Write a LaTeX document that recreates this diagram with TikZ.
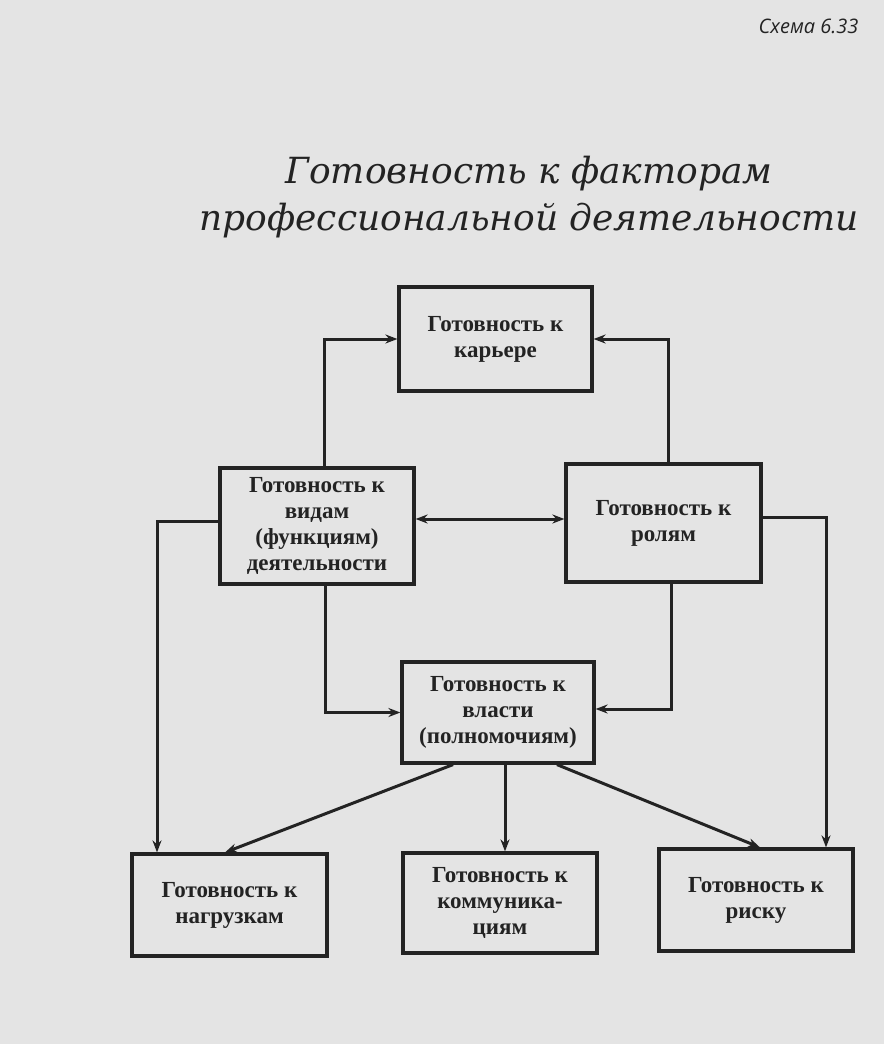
\documentclass[tikz,border=0pt]{standalone}
\usepackage{fontspec}
\setmainfont{Liberation Serif}
\newfontfamily\titlefont{DejaVu Serif}
\newfontfamily\capfont{Open Sans}
\usetikzlibrary{arrows.meta,calc}
\definecolor{paper}{RGB}{228,228,228}
\definecolor{ink}{RGB}{35,35,35}
\begin{document}
\begin{tikzpicture}[x=1pt,y=-1pt,
  box/.style={draw=ink, line width=3.2pt, fill=paper, align=center, inner sep=0pt,
    text=ink, font=\bfseries\fontsize{23}{26}\selectfont},
  arr/.style={draw=ink, line width=3pt, -{Stealth[length=12pt,width=9pt]}},
  darr/.style={draw=ink, line width=3pt, {Stealth[length=12pt,width=9pt]}-{Stealth[length=12pt,width=9pt]}},
  ttl/.style={anchor=base, text=ink, font=\titlefont\itshape\fontsize{36}{36}\selectfont},
  capn/.style={anchor=base east, text=ink, font=\capfont\itshape\fontsize{20}{20}\selectfont}]
\fill[paper] (0,0) rectangle (884,1044);
\useasboundingbox (0,0) rectangle (884,1044);

\node[capn] (cap) at (862,33) {Схема 6.33};
\node[ttl] (t1) at (529,183) {Готовность к факторам};
\node[ttl] (t2) at (529,230) {профессиональной деятельности};

\node[box, minimum width=193pt, minimum height=104pt] (car) at (495.5,339) {Готовность к\\карьере};
\node[box, minimum width=194pt, minimum height=116pt] (vid) at (317,526) {Готовность к\\видам\\(функциям)\\деятельности};
\node[box, minimum width=195pt, minimum height=118pt] (rol) at (663.5,523) {Готовность к\\ролям};
\node[box, minimum width=192pt, minimum height=101pt] (vl) at (498,712.5) {Готовность к\\власти\\(полномочиям)};
\node[box, minimum width=195pt, minimum height=102pt] (nag) at (229.5,905) {Готовность к\\нагрузкам};
\node[box, minimum width=194pt, minimum height=100pt] (kom) at (500,903) {Готовность к\\коммуника-\\циям};
\node[box, minimum width=194pt, minimum height=102pt] (risk) at (756,900) {Готовность к\\риску};

\draw[arr] ([xshift=7pt]vid.north) |- (car.west);
\draw[arr] ([xshift=4.5pt]rol.north) |- (car.east);
\draw[darr] ([yshift=7pt]vid.east) -- ([yshift=7pt]vid.east -| rol.west);
\draw[arr] ([yshift=5pt]vid.west) -| ([xshift=-72.5pt]nag.north);
\draw[arr] ([yshift=6pt]rol.east) -| ([xshift=70pt]risk.north);
\draw[arr] ([xshift=8pt]vid.south) |- (vl.west);
\draw[arr] ([xshift=7.5pt]rol.south) |- ([yshift=3.5pt]vl.east);
\draw[arr] ([xshift=-45pt]vl.south) -- ([xshift=-4.5pt]nag.north);
\draw[arr] ([xshift=5pt]kom.north |- vl.south) -- ([xshift=5pt]kom.north);
\draw[arr] ([xshift=59pt]vl.south) -- ([xshift=4pt]risk.north);
\end{tikzpicture}
\end{document}
